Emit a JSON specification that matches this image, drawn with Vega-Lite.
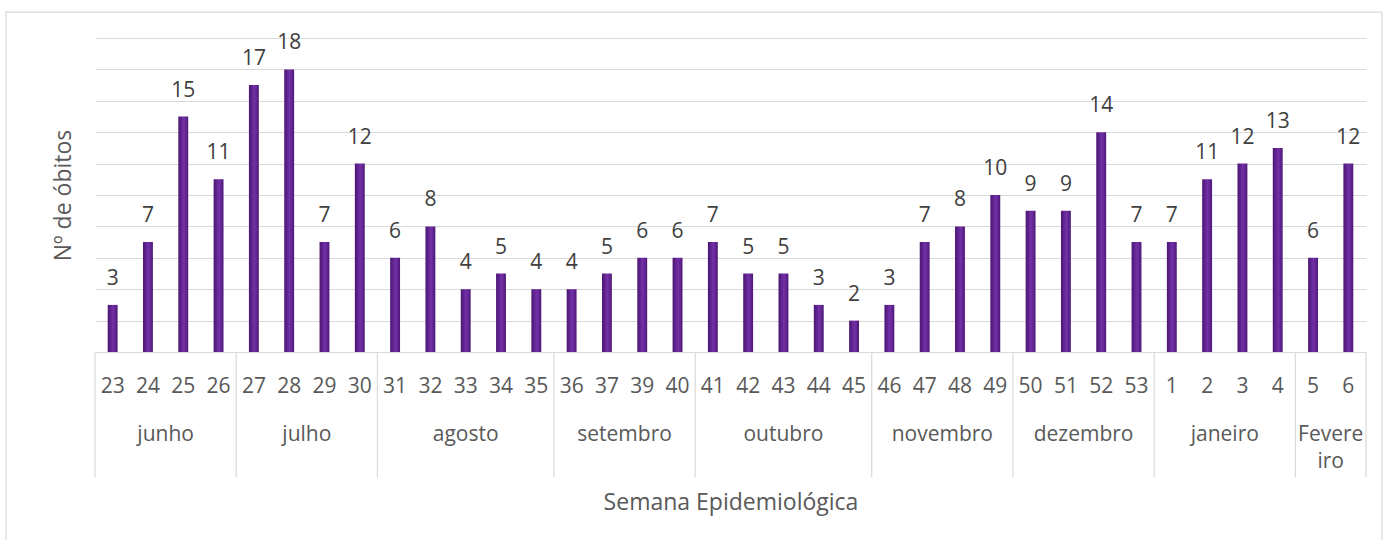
{
  "$schema": "https://vega.github.io/schema/vega-lite/v6.json",
  "autosize": {"type": "none"},
  "width": 1271,
  "height": 314,
  "padding": {"left": 95, "top": 38, "right": 20, "bottom": 188},
  "background": "white",
  "config": {
    "view": {"stroke": null},
    "font": "Open Sans",
    "text": {"font": "Open Sans"}
  },
  "datasets": {
    "weeks": [
      {"week": "23", "month": "junho", "obitos": 3},
      {"week": "24", "month": "junho", "obitos": 7},
      {"week": "25", "month": "junho", "obitos": 15},
      {"week": "26", "month": "junho", "obitos": 11},
      {"week": "27", "month": "julho", "obitos": 17},
      {"week": "28", "month": "julho", "obitos": 18},
      {"week": "29", "month": "julho", "obitos": 7},
      {"week": "30", "month": "julho", "obitos": 12},
      {"week": "31", "month": "agosto", "obitos": 6},
      {"week": "32", "month": "agosto", "obitos": 8},
      {"week": "33", "month": "agosto", "obitos": 4},
      {"week": "34", "month": "agosto", "obitos": 5},
      {"week": "35", "month": "agosto", "obitos": 4},
      {"week": "36", "month": "setembro", "obitos": 4},
      {"week": "37", "month": "setembro", "obitos": 5},
      {"week": "39", "month": "setembro", "obitos": 6},
      {"week": "40", "month": "setembro", "obitos": 6},
      {"week": "41", "month": "outubro", "obitos": 7},
      {"week": "42", "month": "outubro", "obitos": 5},
      {"week": "43", "month": "outubro", "obitos": 5},
      {"week": "44", "month": "outubro", "obitos": 3},
      {"week": "45", "month": "outubro", "obitos": 2},
      {"week": "46", "month": "novembro", "obitos": 3},
      {"week": "47", "month": "novembro", "obitos": 7},
      {"week": "48", "month": "novembro", "obitos": 8},
      {"week": "49", "month": "novembro", "obitos": 10},
      {"week": "50", "month": "dezembro", "obitos": 9},
      {"week": "51", "month": "dezembro", "obitos": 9},
      {"week": "52", "month": "dezembro", "obitos": 14},
      {"week": "53", "month": "dezembro", "obitos": 7},
      {"week": "1", "month": "janeiro", "obitos": 7},
      {"week": "2", "month": "janeiro", "obitos": 11},
      {"week": "3", "month": "janeiro", "obitos": 12},
      {"week": "4", "month": "janeiro", "obitos": 13},
      {"week": "5", "month": "Fevereiro", "obitos": 6},
      {"week": "6", "month": "Fevereiro", "obitos": 12}
    ],
    "months": [
      {"label": "junho", "mid": 2},
      {"label": "julho", "mid": 6},
      {"label": "agosto", "mid": 10.5},
      {"label": "setembro", "mid": 15},
      {"label": "outubro", "mid": 19.5},
      {"label": "novembro", "mid": 24},
      {"label": "dezembro", "mid": 28},
      {"label": "janeiro", "mid": 32},
      {"label": "Fevere\niro", "mid": 35}
    ],
    "edges": [
      {"edge": 0}, {"edge": 4}, {"edge": 8}, {"edge": 13}, {"edge": 17},
      {"edge": 22}, {"edge": 26}, {"edge": 30}, {"edge": 34}, {"edge": 36}
    ],
    "frame": [{"frame": "border"}]
  },
  "resolve": {"scale": {"x": "independent"}},
  "layer": [
    {
      "data": {"name": "weeks"},
      "mark": {
        "type": "bar",
        "color": {
          "gradient": "linear", "x1": 0, "x2": 1, "y1": 0, "y2": 0,
          "stops": [
            {"offset": 0, "color": "#4a1572"},
            {"offset": 0.55, "color": "#7331a8"},
            {"offset": 1, "color": "#4f1878"}
          ]
        }
      },
      "encoding": {
        "x": {
          "field": "week", "type": "nominal", "sort": null,
          "scale": {"paddingInner": 0.72, "paddingOuter": 0.36},
          "axis": {
            "title": "Semana Epidemiológica",
            "titleFontSize": 23, "titleFontWeight": "normal", "titleColor": "#595959",
            "titlePadding": 95,
            "labelAngle": 0, "labelFontSize": 21, "labelColor": "#595959",
            "labelPadding": 23, "ticks": false, "tickSize": 0,
            "domainColor": "#d9d9d9", "domainWidth": 1.2, "grid": false
          }
        },
        "y": {
          "field": "obitos", "type": "quantitative",
          "scale": {"domain": [0, 20], "nice": false},
          "axis": {
            "title": "Nº de óbitos",
            "titleFontSize": 23, "titleFontWeight": "normal", "titleColor": "#595959",
            "titlePadding": 20,
            "values": [0, 2, 4, 6, 8, 10, 12, 14, 16, 18, 20],
            "tickCount": 30,
            "labels": false, "ticks": false, "domain": false,
            "grid": true, "gridColor": "#d9d9d9", "gridWidth": 1.2
          }
        }
      }
    },
    {
      "data": {"name": "frame"},
      "mark": {"type": "rect", "fill": null, "stroke": "#d9d9d9", "strokeWidth": 1.2},
      "encoding": {
        "x": {"datum": -2.52, "type": "quantitative", "scale": {"domain": [0, 36]}, "axis": null},
        "x2": {"datum": 36.45},
        "y": {"datum": 21.65, "type": "quantitative"},
        "y2": {"datum": -13}
      }
    },
    {
      "data": {"name": "weeks"},
      "mark": {"type": "text", "fontSize": 21, "color": "#404040", "baseline": "alphabetic", "dy": -20},
      "encoding": {
        "x": {"field": "week", "type": "nominal", "sort": null, "axis": null,
              "scale": {"paddingInner": 0.72, "paddingOuter": 0.36}},
        "y": {"field": "obitos", "type": "quantitative"},
        "text": {"field": "obitos", "type": "quantitative"}
      }
    },
    {
      "data": {"name": "edges"},
      "mark": {"type": "rule", "color": "#d9d9d9", "strokeWidth": 1.2},
      "encoding": {
        "x": {"field": "edge", "type": "quantitative", "scale": {"domain": [0, 36]}, "axis": null},
        "y": {"datum": 0, "type": "quantitative"},
        "y2": {"datum": -8}
      }
    },
    {
      "data": {"name": "months"},
      "mark": {"type": "text", "fontSize": 21, "color": "#595959", "baseline": "middle", "lineBreak": "\n", "lineHeight": 27},
      "encoding": {
        "x": {"field": "mid", "type": "quantitative", "scale": {"domain": [0, 36]}, "axis": null},
        "y": {"datum": -5.3, "type": "quantitative"},
        "text": {"field": "label", "type": "nominal"}
      }
    }
  ]
}
